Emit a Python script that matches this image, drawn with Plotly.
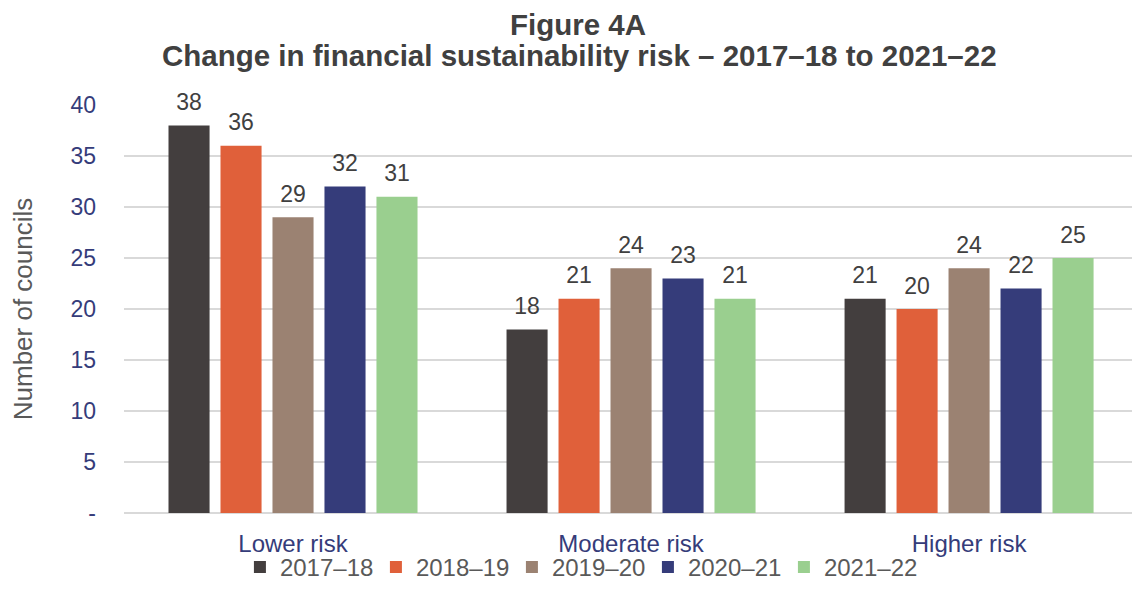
import plotly.graph_objects as go

categories = ["Lower risk", "Moderate risk", "Higher risk"]
years = ["2017–18", "2018–19", "2019–20", "2020–21", "2021–22"]
values = {
    "2017–18": [38, 18, 21],
    "2018–19": [36, 21, 20],
    "2019–20": [29, 24, 24],
    "2020–21": [32, 23, 22],
    "2021–22": [31, 21, 25],
}
colors = ["#433E3E", "#E0603A", "#9B8272", "#353C7A", "#9ACF8F"]
y_ticks = [0, 5, 10, 15, 20, 25, 30, 35, 40]
y_tick_labels = ["-", "5", "10", "15", "20", "25", "30", "35", "40"]

font_family = "Liberation Sans, Arial, sans-serif"
bar_gap = 0.231

fig = go.Figure()
for year, color in zip(years, colors):
    fig.add_trace(go.Bar(
        name=year,
        x=categories,
        y=values[year],
        marker=dict(color=color, line=dict(width=0)),
        offsetgroup=year,
        hoverinfo="skip",
    ))

# value labels, grouped the same way as the bars and lifted a little above each bar
for year in years:
    fig.add_trace(go.Scatter(
        x=categories,
        y=values[year],
        mode="markers+text",
        text=[str(v) for v in values[year]],
        textposition="top center",
        textfont=dict(size=23, color="#404040", family=font_family),
        marker=dict(size=14, opacity=0),
        offsetgroup=year,
        showlegend=False,
        cliponaxis=False,
        hoverinfo="skip",
    ))

fig.update_layout(
    width=1132,
    height=604,
    paper_bgcolor="white",
    plot_bgcolor="white",
    margin=dict(l=124, r=0, t=105, b=91),
    barmode="group",
    bargap=bar_gap,
    bargroupgap=0.21,
    scattermode="group",
    scattergap=bar_gap,
    font=dict(family=font_family),
    showlegend=True,
    legend=dict(
        orientation="h",
        x=0.115,
        xanchor="left",
        y=-0.078,
        yanchor="top",
        bgcolor="rgba(0,0,0,0)",
        font=dict(size=24, color="#595959", family=font_family),
        itemwidth=30,
        entrywidth=91,
        tracegroupgap=0,
        traceorder="normal",
    ),
    xaxis=dict(
        range=[-0.5, 2.482],
        showgrid=False,
        showline=False,
        ticks="",
        ticklabelstandoff=14,
        tickfont=dict(size=24, color="#353C7A", family=font_family),
    ),
    yaxis=dict(
        range=[0, 40],
        tickvals=y_ticks,
        ticktext=y_tick_labels,
        showgrid=True,
        gridcolor="#D9D9D9",
        gridwidth=1.5,
        zeroline=True,
        zerolinecolor="#D9D9D9",
        zerolinewidth=1.5,
        ticks="",
        ticklabelstandoff=27,
        tickfont=dict(size=23, color="#353C7A", family=font_family),
        title=dict(
            text="Number of councils",
            font=dict(size=26, color="#595959", family=font_family),
            standoff=30,
        ),
    ),
    annotations=[
        dict(
            text="<b>Figure 4A</b>",
            xref="paper", yref="paper",
            x=0.4504, y=(513 - 24) / 408,
            xanchor="center", yanchor="middle",
            showarrow=False,
            font=dict(size=29.5, color="#404040", family=font_family),
        ),
        dict(
            text="<b>Change in financial sustainability risk – 2017–18 to 2021–22</b>",
            xref="paper", yref="paper",
            x=0.4514, y=(513 - 55) / 408,
            xanchor="center", yanchor="middle",
            showarrow=False,
            font=dict(size=29.5, color="#404040", family=font_family),
        ),
    ],
)

fig.write_html("out.html")
